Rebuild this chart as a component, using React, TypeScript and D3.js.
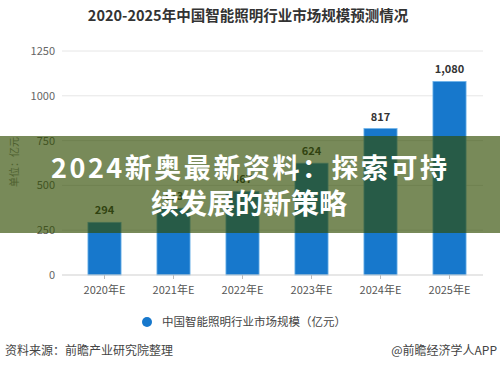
import React from 'react';
import * as d3 from 'd3';

const years = ['2020年E', '2021年E', '2022年E', '2023年E', '2024年E', '2025年E'];
const marketSize = [294, 373, 467, 624, 817, 1080];
const yTicks = [0, 250, 500, 750, 1000, 1250];

const title = '2020-2025年中国智能照明行业市场规模预测情况';
const legendLabel = '中国智能照明行业市场规模（亿元）';
const unitLabel = '单位：亿元';
const source = '资料来源：前瞻产业研究院整理';
const credit = '@前瞻经济学人APP';
const bannerLines = ['2024新奥最新资料：探索可持', '续发展的新策略'];

const W = 500;
const H = 370;
const font = '"Noto Sans CJK SC", "Noto Sans", sans-serif';

const App: React.FC = () => {
  const x = d3.scaleBand<string>()
    .domain(years)
    .range([70, 484])
    .paddingInner(0.52)
    .paddingOuter(0.26);

  const y = d3.scaleLinear().domain([0, 1250]).range([275, 51]);
  const fmt = d3.format(',');

  return (
    <div style={{ position: 'fixed', left: 0, top: 0 }}>
      <svg width={W} height={H} style={{ display: 'block', background: '#fff' }} fontFamily={font}>
        {/* title */}
        <text x={248} y={21} textAnchor="middle" fontSize={14.5} fontWeight="bold" fill="#333">
          {title}
        </text>

        {/* grid + y ticks */}
        {yTicks.map((t) => (
          <g key={t}>
            {t > 0 && <line x1={62} x2={483} y1={y(t)} y2={y(t)} stroke="#e6e6e6" strokeWidth={1} />}
            <text x={55} y={y(t) + 4} textAnchor="end" fontSize={11} fill="#666">
              {t}
            </text>
          </g>
        ))}

        <text
          transform={`translate(18, 162) rotate(-90)`}
          textAnchor="middle"
          fontSize={10}
          fill="#888"
        >
          {unitLabel}
        </text>

        {/* bars */}
        {marketSize.map((v, i) => {
          const bx = x(years[i]) as number;
          return (
            <g key={years[i]}>
              <rect
                x={bx}
                y={y(v)}
                width={x.bandwidth()}
                height={y(0) - y(v)}
                fill="#1778cc"
                stroke="#6fb4ea"
                strokeWidth={0.8}
              />
              <text
                x={bx + x.bandwidth() / 2}
                y={y(v) - 8}
                textAnchor="middle"
                fontSize={11}
                fontWeight="bold"
                fill="#333"
              >
                {fmt(v)}
              </text>
            </g>
          );
        })}

        {/* x axis */}
        <line x1={62} x2={483} y1={y(0)} y2={y(0)} stroke="#cfcfcf" strokeWidth={1} />
        {years.map((yr) => {
          const cx = (x(yr) as number) + x.bandwidth() / 2;
          return (
            <g key={yr}>
              <line x1={cx} x2={cx} y1={y(0)} y2={y(0) + 4} stroke="#bbb" />
              <text x={cx} y={294} textAnchor="middle" fontSize={11} fill="#555">
                {yr}
              </text>
            </g>
          );
        })}

        {/* legend */}
        <circle cx={147} cy={322} r={5} fill="#1778cc" />
        <text x={162} y={326} fontSize={11.5} fill="#444">
          {legendLabel}
        </text>

        {/* footer */}
        <text x={5} y={355} fontSize={12} fill="#444">
          {source}
        </text>
        <text x={497} y={355} textAnchor="end" fontSize={12} fill="#444">
          {credit}
        </text>

        {/* overlay banner */}
        <rect x={0} y={136} width={W} height={97} fill="rgb(48,75,0)" fillOpacity={0.65} />
        <text x={249} y={178} textAnchor="middle" fontSize={27} fontWeight="bold" fill="#fff" textLength={396}>
          {bannerLines[0]}
        </text>
        <text x={249} y={214} textAnchor="middle" fontSize={28} fontWeight="bold" fill="#fff">
          {bannerLines[1]}
        </text>
      </svg>
    </div>
  );
};

export default App;
